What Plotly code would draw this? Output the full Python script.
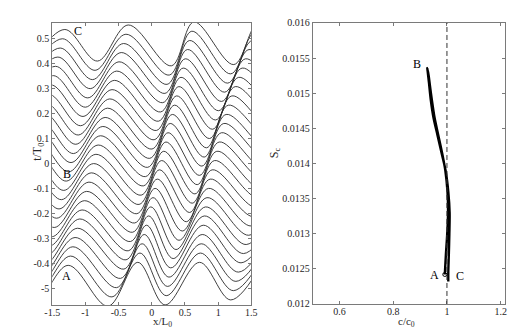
import plotly.graph_objects as go

# ---------------- left panel data (wave profiles stacked by time) ----------------
t_levels = [-0.484, -0.447, -0.410, -0.373, -0.336, -0.299, -0.263, -0.226, -0.189,
            -0.152, -0.115, -0.078, -0.041, -0.004, 0.033, 0.070, 0.106, 0.143,
            0.180, 0.217, 0.254, 0.291, 0.328, 0.365, 0.401, 0.438, 0.475]

# trough positions (x/L0) for each profile: T0..T4
trough_x = [
    [-2.720, -1.760, -0.660, 0.200, 1.190],
    [-2.684, -1.724, -0.600, 0.217, 1.229],
    [-2.648, -1.688, -0.530, 0.235, 1.268],
    [-2.611, -1.651, -0.470, 0.258, 1.306],
    [-2.575, -1.615, -0.420, 0.285, 1.345],
    [-2.539, -1.579, -0.388, 0.322, 1.384],
    [-2.503, -1.543, -0.355, 0.365, 1.423],
    [-2.467, -1.507, -0.322, 0.410, 1.462],
    [-2.430, -1.470, -0.290, 0.460, 1.500],
    [-2.394, -1.434, -0.257, 0.520, 1.539],
    [-2.358, -1.398, -0.225, 0.570, 1.578],
    [-2.322, -1.362, -0.192, 0.610, 1.617],
    [-2.286, -1.326, -0.160, 0.650, 1.656],
    [-2.249, -1.289, -0.127, 0.685, 1.694],
    [-2.213, -1.253, -0.095, 0.720, 1.733],
    [-2.177, -1.217, -0.062, 0.755, 1.772],
    [-2.141, -1.181, -0.030, 0.790, 1.811],
    [-2.105, -1.145, 0.003, 0.825, 1.850],
    [-2.068, -1.108, 0.035, 0.870, 1.888],
    [-2.032, -1.072, 0.068, 0.916, 1.927],
    [-1.996, -1.036, 0.100, 0.962, 1.966],
    [-1.960, -1.000, 0.133, 1.008, 2.005],
    [-1.924, -0.964, 0.165, 1.053, 2.044],
    [-1.887, -0.927, 0.198, 1.099, 2.082],
    [-1.851, -0.891, 0.230, 1.145, 2.121],
    [-1.815, -0.855, 0.263, 1.190, 2.160],
    [-1.779, -0.819, 0.295, 1.236, 2.199],
]

# crest positions (x/L0) for each profile: C0..C4
crest_x = [
    [-2.220, -1.260, -0.210, 0.720, 1.660],
    [-2.185, -1.225, -0.178, 0.732, 1.696],
    [-2.150, -1.190, -0.145, 0.745, 1.732],
    [-2.115, -1.156, -0.113, 0.760, 1.768],
    [-2.080, -1.121, -0.080, 0.775, 1.804],
    [-2.045, -1.086, -0.048, 0.792, 1.840],
    [-2.010, -1.051, -0.015, 0.810, 1.876],
    [-1.975, -1.016, 0.018, 0.832, 1.912],
    [-1.940, -0.982, 0.050, 0.855, 1.948],
    [-1.905, -0.947, 0.083, 0.880, 1.984],
    [-1.870, -0.912, 0.115, 0.910, 2.020],
    [-1.835, -0.877, 0.148, 0.945, 2.056],
    [-1.800, -0.842, 0.180, 0.980, 2.092],
    [-1.765, -0.808, 0.213, 1.015, 2.128],
    [-1.730, -0.773, 0.245, 1.050, 2.164],
    [-1.695, -0.738, 0.278, 1.085, 2.200],
    [-1.660, -0.703, 0.310, 1.120, 2.236],
    [-1.625, -0.668, 0.343, 1.155, 2.272],
    [-1.590, -0.634, 0.375, 1.207, 2.308],
    [-1.555, -0.599, 0.408, 1.258, 2.344],
    [-1.520, -0.564, 0.440, 1.310, 2.380],
    [-1.485, -0.529, 0.473, 1.362, 2.416],
    [-1.450, -0.494, 0.505, 1.413, 2.452],
    [-1.415, -0.460, 0.538, 1.465, 2.488],
    [-1.380, -0.425, 0.570, 1.517, 2.524],
    [-1.345, -0.390, 0.603, 1.568, 2.560],
    [-1.310, -0.355, 0.635, 1.620, 2.596],
]

crest_amp = [0.060, 0.078, 0.090, 0.090, 0.085]
trough_amp = [0.060, 0.066, 0.085, 0.080, 0.060]

x_ticks_left = [-1.5, -1, -0.5, 0, 0.5, 1, 1.5]
x_ticklabels_left = ['-1.5', '-1', '-0.5', '0', '0.5', '1', '1.5']
y_ticks_left = [-0.5, -0.4, -0.3, -0.2, -0.1, 0, 0.1, 0.2, 0.3, 0.4, 0.5]
y_ticklabels_left = ['-5', '-0.4', '-0.3', '-0.2', '-0.1', '0', '0.1', '0.2', '0.3', '0.4', '0.5']

# ---------------- right panel data ----------------
c_ratio = [0.992, 0.996, 1.001, 1.004, 1.002, 0.994, 0.982, 0.968, 0.954, 0.944, 0.937, 0.932, 0.927,
           0.933, 0.940, 0.950, 0.965, 0.980, 0.995, 1.005, 1.010, 1.009, 1.007, 1.005, 1.005]
s_c = [0.01242, 0.01270, 0.01300, 0.01330, 0.01360, 0.01390, 0.01415, 0.01440, 0.01465, 0.01490,
       0.01510, 0.01525, 0.01536,
       0.01515, 0.01490, 0.01465, 0.01440, 0.01415, 0.01390, 0.01360, 0.01330, 0.01300, 0.01270,
       0.01245, 0.01232]
ref_ratio = 1.0
start_point = (0.992, 0.01242)

x_ticks_right = [0.6, 0.8, 1.0, 1.2]
x_ticklabels_right = ['0.6', '0.8', '1', '1.2']
y_ticks_right = [0.012, 0.0125, 0.013, 0.0135, 0.014, 0.0145, 0.015, 0.0155, 0.016]
y_ticklabels_right = ['0.012', '0.0125', '0.013', '0.0135', '0.014', '0.0145', '0.015', '0.0155', '0.016']

FONT = 'Liberation Serif'
TXT = '#262626'
AX = '#7a7a7a'

fig = go.Figure()

for t, tx, cx in zip(t_levels, trough_x, crest_x):
    xs, ys = [], []
    for k in range(len(tx)):
        xs.append(tx[k]); ys.append(t - trough_amp[k])
        xs.append(cx[k]); ys.append(t + crest_amp[k])
    fig.add_trace(go.Scatter(x=xs, y=ys, mode='lines', xaxis='x', yaxis='y',
                             line=dict(color='#2a2a2a', width=0.9, shape='spline', smoothing=1),
                             hoverinfo='skip'))

fig.add_trace(go.Scatter(x=c_ratio, y=s_c, mode='lines', xaxis='x2', yaxis='y2',
                         line=dict(color='black', width=2.4, shape='spline', smoothing=0.8),
                         hoverinfo='skip'))
fig.add_trace(go.Scatter(x=[start_point[0]], y=[start_point[1]], mode='markers', xaxis='x2', yaxis='y2',
                         marker=dict(symbol='circle-open', size=4, color='black', line=dict(width=1)),
                         hoverinfo='skip'))

axis_common = dict(showgrid=False, zeroline=False, showline=True, linecolor=AX, linewidth=1,
                   mirror='ticks', ticks='inside', ticklen=3, tickcolor=AX,
                   tickfont=dict(family=FONT, size=10, color=TXT))

fig.update_layout(
    width=528, height=329,
    margin=dict(l=0, r=0, t=0, b=0),
    paper_bgcolor='white', plot_bgcolor='white',
    showlegend=False,
    xaxis=dict(domain=[0.0705, 0.4578], range=[-1.5, 1.5], tickvals=x_ticks_left,
               ticktext=x_ticklabels_left, anchor='y', ticklabelstandoff=-2, **axis_common),
    yaxis=dict(domain=[0.0851, 0.9726], range=[-0.564, 0.562], tickvals=y_ticks_left,
               ticktext=y_ticklabels_left, anchor='x', **axis_common),
    xaxis2=dict(domain=[0.5771, 0.9513], range=[0.5, 1.216], tickvals=x_ticks_right,
                ticktext=x_ticklabels_right, anchor='y2', ticklabelstandoff=-2, **axis_common),
    yaxis2=dict(domain=[0.0881, 0.9717], range=[0.012, 0.016], tickvals=y_ticks_right,
                ticktext=y_ticklabels_right, anchor='x2', **axis_common),
)

fig.add_shape(type='line', xref='x2', yref='y2', x0=ref_ratio, x1=ref_ratio, y0=0.012, y1=0.016,
              line=dict(color='#333333', width=1, dash='5px,3px'))

annots = [
    dict(x=13 / 528, y=1 - 143 / 329, xref='paper', yref='paper', text='t/T<sub>0</sub>',
         textangle=-90, font=dict(family=FONT, size=12, color=TXT), showarrow=False),
    dict(x=140 / 528, y=2.5 / 329, xref='paper', yref='paper', yanchor='bottom', borderpad=0,
         text='x/L<sub>0</sub>', font=dict(family=FONT, size=11, color=TXT), showarrow=False),
    dict(x=266 / 528, y=1 - 143 / 329, xref='paper', yref='paper', text='S<sub>c</sub>',
         textangle=-90, font=dict(family=FONT, size=12, color=TXT), showarrow=False),
    dict(x=411 / 528, y=2.5 / 329, xref='paper', yref='paper', yanchor='bottom', borderpad=0,
         text='c/c<sub>0</sub>', font=dict(family=FONT, size=11, color=TXT), showarrow=False),
    dict(x=-1.29, y=-0.449, xref='x', yref='y', text='A', font=dict(family=FONT, size=12, color='black'), showarrow=False),
    dict(x=-1.28, y=-0.04, xref='x', yref='y', text='B', font=dict(family=FONT, size=12, color='black'), showarrow=False),
    dict(x=-1.11, y=0.528, xref='x', yref='y', text='C', font=dict(family=FONT, size=12, color='black'), showarrow=False),
    dict(x=0.889, y=0.01542, xref='x2', yref='y2', text='B', font=dict(family=FONT, size=12, color='black'), showarrow=False),
    dict(x=0.953, y=0.01241, xref='x2', yref='y2', text='A', font=dict(family=FONT, size=12, color='black'), showarrow=False),
    dict(x=1.05, y=0.0124, xref='x2', yref='y2', text='C', font=dict(family=FONT, size=12, color='black'), showarrow=False),
]
fig.update_layout(annotations=annots)

fig.write_html('out.html')
